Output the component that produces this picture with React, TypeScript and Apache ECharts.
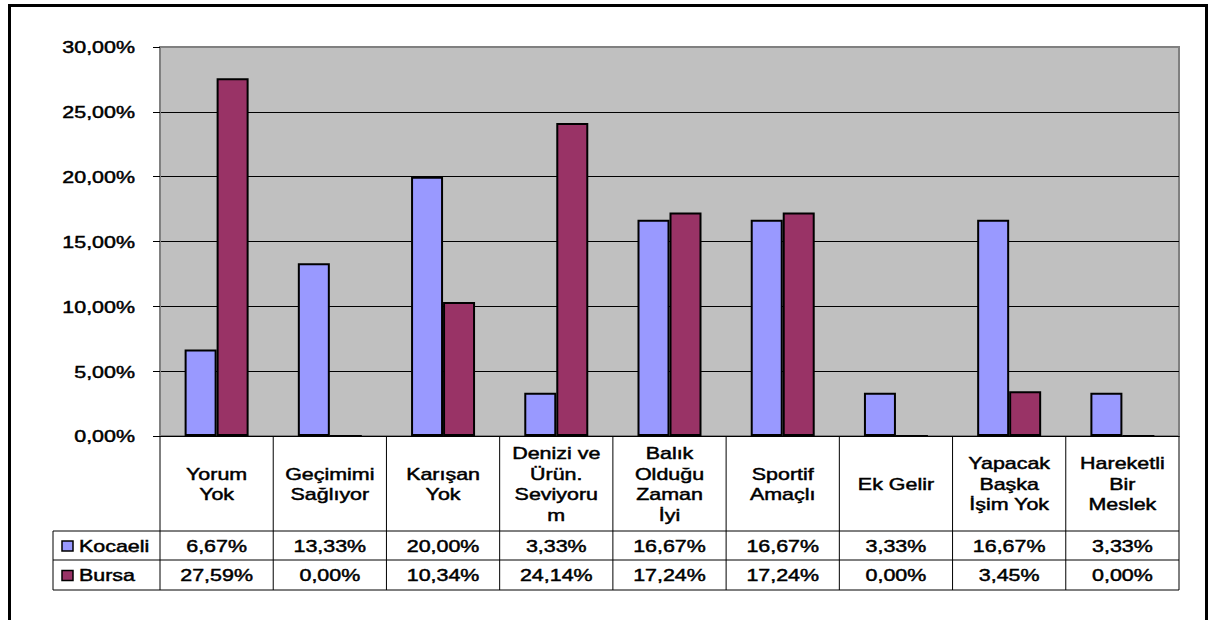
import React, { useEffect, useRef } from "react";
import * as echarts from "echarts";

const CATEGORIES = [
  "Yorum\nYok",
  "Geçimimi\nSağlıyor",
  "Karışan\nYok",
  "Denizi ve\nÜrün.\nSeviyoru\nm",
  "Balık\nOlduğu\nZaman\nİyi",
  "Sportif\nAmaçlı",
  "Ek Gelir",
  "Yapacak\nBaşka\nİşim Yok",
  "Hareketli\nBir\nMeslek",
];
const KOCAELI = [6.67, 13.33, 20.0, 3.33, 16.67, 16.67, 3.33, 16.67, 3.33];
const BURSA = [27.59, 0.0, 10.34, 24.14, 17.24, 17.24, 0.0, 3.45, 0.0];
const SERIES_NAMES = ["Kocaeli", "Bursa"];
const Y_TICKS = [0, 5, 10, 15, 20, 25, 30];

const COLORS = ["#9999FF", "#993366"];
const FONT = '16px "Liberation Sans", Arial, sans-serif';
const STRETCH = 1.34;

const fmt = (v: number) => v.toFixed(2).replace(".", ",") + "%";

// shared look of all chart texts (slightly heavier than plain regular)
const textStyle = (text: string, align: string) => ({
  text,
  font: FONT,
  fill: "#000",
  stroke: "#000",
  lineWidth: 0.45,
  align,
  verticalAlign: "middle",
});

export default function App() {
  const ref = useRef<HTMLDivElement>(null);

  useEffect(() => {
    document.body.style.margin = "0";
    if (!ref.current) return;
    const chart = echarts.init(ref.current, null, { renderer: "svg" });

    const gridLeft = 160;
    const gridTop = 47;
    const gridWidth = 1019;
    const gridHeight = 389;

    chart.setOption({
      animation: false,
      grid: {
        left: gridLeft,
        top: gridTop,
        width: gridWidth,
        height: gridHeight,
        show: true,
        backgroundColor: "#C0C0C0",
        borderColor: "#808080",
        borderWidth: 2,
      },
      xAxis: {
        type: "category",
        data: CATEGORIES,
        axisLine: { lineStyle: { color: "#000", width: 1 } },
        axisTick: { show: false },
        axisLabel: { show: false },
      },
      yAxis: {
        type: "value",
        min: 0,
        max: 30,
        interval: 5,
        axisLine: { show: true, lineStyle: { color: "#808080", width: 2 } },
        axisTick: { show: true, length: 7, lineStyle: { color: "#000" } },
        axisLabel: { show: false },
        splitLine: {
          show: true,
          showMaxLine: false,
          lineStyle: { color: "#000", width: 1 },
        },
      },
      series: [KOCAELI, BURSA].map((data, i) => ({
        name: SERIES_NAMES[i],
        type: "bar",
        data,
        barWidth: 32,
        barGap: "0%",
        itemStyle: { color: COLORS[i], borderColor: "#000", borderWidth: 2 },
      })),
    });

    // Data table under the plot, laid out on the category axis positions
    const c0 = chart.convertToPixel({ xAxisIndex: 0 }, 0) as number;
    const c1 = chart.convertToPixel({ xAxisIndex: 0 }, 1) as number;
    const half = (c1 - c0) / 2;
    const centers = CATEGORIES.map(
      (_, i) => chart.convertToPixel({ xAxisIndex: 0 }, i) as number
    );
    const yZero = chart.convertToPixel({ yAxisIndex: 0 }, 0) as number;
    const tableLeft = 53;
    const tableRight = centers[centers.length - 1] + half;
    const headerBottom = 531;
    const row1Bottom = 560;
    const row2Bottom = 590;
    const rowBottoms = [row1Bottom, row2Bottom];
    const rowTops = [headerBottom, row1Bottom];

    const lineStyle = { stroke: "#000", lineWidth: 1 };
    const elements: any[] = [];

    // outer frame
    elements.push({
      type: "rect",
      shape: { x: 9.5, y: 5.5, width: 1197, height: 700 },
      style: { fill: "transparent", stroke: "#000", lineWidth: 3 },
      silent: true,
    });

    // horizontal rules
    [headerBottom, row1Bottom, row2Bottom].forEach((y) =>
      elements.push({
        type: "line",
        shape: { x1: tableLeft, y1: y, x2: tableRight, y2: y },
        style: lineStyle,
        silent: true,
      })
    );
    // left edge of legend column
    elements.push({
      type: "line",
      shape: { x1: tableLeft, y1: headerBottom, x2: tableLeft, y2: row2Bottom },
      style: lineStyle,
      silent: true,
    });
    // column separators
    for (let i = 0; i <= CATEGORIES.length; i++) {
      const x = c0 - half + i * 2 * half;
      elements.push({
        type: "line",
        shape: { x1: x, y1: yZero, x2: x, y2: row2Bottom },
        style: lineStyle,
        silent: true,
      });
    }

    // category headers
    CATEGORIES.forEach((cat, i) => {
      elements.push({
        type: "text",
        x: centers[i],
        y: (yZero + headerBottom) / 2 + 1,
        scaleX: STRETCH,
        style: { ...textStyle(cat, "center"), lineHeight: 20.5 },
        silent: true,
      });
    });

    // series rows
    [KOCAELI, BURSA].forEach((vals, r) => {
      const yMid = (rowTops[r] + rowBottoms[r]) / 2 + 1;
      elements.push({
        type: "rect",
        shape: { x: 62, y: yMid - 5.5, width: 11, height: 10 },
        style: { fill: COLORS[r], stroke: "#000", lineWidth: 1.5 },
        silent: true,
      });
      elements.push({
        type: "text",
        x: 79,
        y: yMid,
        scaleX: STRETCH,
        style: textStyle(SERIES_NAMES[r], "left"),
        silent: true,
      });
      vals.forEach((v, i) => {
        elements.push({
          type: "text",
          x: centers[i],
          y: yMid,
          scaleX: STRETCH,
          style: textStyle(fmt(v), "center"),
          silent: true,
        });
      });
    });

    // value axis labels
    Y_TICKS.forEach((t) => {
      const y = chart.convertToPixel({ yAxisIndex: 0 }, t) as number;
      elements.push({
        type: "text",
        x: 135,
        y: y + 1,
        scaleX: STRETCH,
        style: textStyle(fmt(t), "right"),
        silent: true,
      });
    });

    chart.setOption({ graphic: { elements } });

    return () => chart.dispose();
  }, []);

  return <div ref={ref} style={{ width: 1214, height: 620 }} />;
}
